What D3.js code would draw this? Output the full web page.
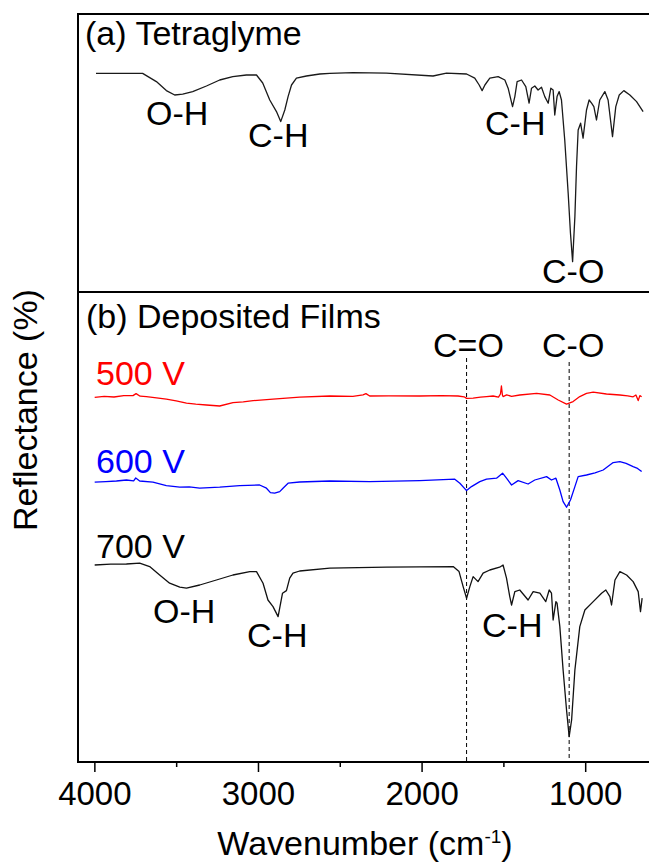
<!DOCTYPE html>
<html>
<head>
<meta charset="utf-8">
<script src="https://cdn.jsdelivr.net/npm/d3@7"></script>
<style>
  body { margin: 0; background: #fff; }
  svg text { font-family: "Liberation Sans", Arial, sans-serif; }
</style>
</head>
<body>
<div id="chart"></div>
<script>
// spectra: [wavenumber (cm-1), reflectance (a.u., offset)]
var tetraglyme = [
    [3990, 109.3], [3705, 109.3], [3621, 105.2], [3560, 100.7], [3509, 98.5], [3460, 98.9],
    [3399, 100.2], [3315, 103], [3234, 106], [3154, 107.7], [3071, 108.5], [3009, 108.5],
    [2971, 104.5], [2928, 96], [2887, 90.2], [2861, 85.2], [2836, 91], [2816, 97.7],
    [2795, 103.5], [2765, 106.9], [2704, 108], [2622, 109], [2561, 109.3], [2419, 109.7],
    [2215, 109.4], [1930, 108], [1848, 109.4], [1725, 109], [1675, 106.9], [1648, 103.5],
    [1630, 100.7], [1613, 103.5], [1583, 106.9], [1532, 107.7], [1491, 106], [1471, 101.9],
    [1444, 92.7], [1430, 97.7], [1416, 105.2], [1389, 106], [1363, 102.7], [1343, 94.4],
    [1328, 101.9], [1308, 103], [1288, 101], [1267, 102.4], [1247, 97.7], [1226, 94.4],
    [1210, 101.9], [1196, 101], [1186, 88.5], [1172, 97.7], [1159, 100.2], [1145, 96],
    [1125, 76], [1104, 49.4], [1090, 29.4], [1077, 15.2], [1063, 37.7], [1053, 62.7],
    [1043, 81], [1028, 84.4], [1013, 76.9], [992, 91], [976, 96], [961, 94.4],
    [947, 92.7], [931, 86], [911, 96], [880, 100.2], [860, 96], [833, 77.7],
    [813, 92.7], [792, 98.5], [764, 100.7], [727, 98.5], [686, 95.2], [646, 90.2]
];

var film500 = [
    [3998, 182.3], [3940, 182.8], [3880, 182.5], [3820, 183.2], [3764, 183.2], [3745, 184.2],
    [3720, 182.9], [3682, 182.7], [3620, 182.1], [3560, 181.4], [3500, 180.6], [3437, 179.4],
    [3380, 178.9], [3315, 178.5], [3234, 178], [3153, 179.7], [3090, 180.1], [3030, 180.7],
    [2908, 181.4], [2745, 182.4], [2561, 183], [2420, 182.8], [2358, 183.6], [2340, 184.2],
    [2317, 183], [2200, 183.1], [2011, 183], [1880, 183.2], [1777, 183], [1740, 182.6],
    [1725, 181.8], [1685, 181.9], [1640, 182.4], [1603, 182.7], [1563, 183], [1530, 182.4],
    [1518, 184], [1512, 188], [1506, 183.5], [1502, 182.7], [1480, 183.6], [1450, 182.8],
    [1400, 183.5], [1297, 184.3], [1216, 183.5], [1165, 181], [1114, 178.9], [1074, 180.2],
    [1033, 182.7], [992, 184.3], [951, 184.9], [870, 184], [788, 183.5], [740, 183.1],
    [707, 182.6], [690, 183.5], [676, 180.7], [666, 183.2], [655, 182.6]
];

var film600 = [
    [3998, 139.9], [3930, 140.2], [3865, 140.5], [3804, 141], [3760, 140.6], [3747, 142],
    [3723, 140.5], [3642, 139.9], [3560, 138.2], [3478, 137.4], [3420, 137.6], [3356, 136.9],
    [3234, 137.4], [3112, 138.2], [2990, 138.5], [2948, 136.9], [2924, 134.7], [2898, 134.4],
    [2867, 135.2], [2847, 136.9], [2816, 139.4], [2745, 140], [2561, 140.5], [2317, 140.2],
    [2011, 140.7], [1797, 141.4], [1766, 139.4], [1725, 135.7], [1695, 137.7], [1644, 140.2],
    [1603, 141.4], [1542, 141.9], [1505, 144.4], [1481, 141.9], [1450, 138.5], [1410, 140.7],
    [1349, 139], [1308, 141], [1236, 142.7], [1206, 141], [1179, 141.9], [1155, 136],
    [1135, 130.2], [1114, 127.4], [1090, 131], [1063, 137.7], [1043, 142.7], [992, 143.5],
    [940, 144.6], [890, 146], [829, 149.7], [788, 150.2], [750, 149.3], [707, 147.7],
    [680, 146.8], [655, 145.2]
];

var film700 = [
    [3998, 98.5], [3900, 98.9], [3804, 99], [3723, 99.4], [3662, 97.7], [3601, 93.5],
    [3540, 89.4], [3478, 87.4], [3437, 86.9], [3356, 88.5], [3254, 91], [3153, 93.5],
    [3050, 95.2], [3009, 95.2], [2969, 89.4], [2939, 81], [2908, 77.7], [2877, 72.7],
    [2850, 84.4], [2826, 85.7], [2806, 91.9], [2786, 94.4], [2745, 95.5], [2561, 96.9],
    [2215, 97.4], [1807, 97.7], [1771, 95.2], [1746, 87.7], [1725, 81.9], [1705, 87.7],
    [1685, 92.7], [1655, 90.2], [1624, 94.4], [1583, 96], [1523, 97.4], [1502, 98.5],
    [1481, 91.9], [1461, 82.7], [1450, 78.5], [1430, 85.2], [1400, 86], [1349, 81],
    [1318, 85.2], [1277, 84.4], [1241, 80.2], [1220, 86], [1206, 84.4], [1196, 71],
    [1179, 80.2], [1172, 79.4], [1155, 67.7], [1135, 46], [1114, 26], [1098, 12.7],
    [1083, 21], [1063, 46], [1033, 67.7], [1002, 76], [951, 80.2], [900, 84.4],
    [874, 86], [849, 82.7], [839, 78.5], [818, 91], [788, 95.2], [747, 93.5],
    [707, 90.2], [676, 85.2], [662, 75.2], [652, 81.9]
];

var majorTicks = [4000, 3000, 2000, 1000];
var minorTicks = [3500, 2500, 1500];
var markerWn = [1725, 1098];

var frame = {left: 78, right: 667, top: 14, mid: 292, bottom: 762};

function drawSpectrum(svg, data, x, y, color) {
    svg.append("path")
        .datum(data)
        .attr("fill", "none")
        .attr("stroke", color)
        .attr("stroke-width", 1.3)
        .attr("stroke-linejoin", "round")
        .attr("d", d3.line()
            .x(function(d) { return x(d[0]) })
            .y(function(d) { return y(d[1]) })
        );
}

function addLabel(svg, txt, px, py, color) {
    svg.append("text")
        .attr("x", px)
        .attr("y", py)
        .attr("font-size", 34)
        .attr("fill", color || "#000")
        .text(txt);
}

function drawChart() {
    let svg = d3.select("#chart")
        .append("svg")
        .attr("width", 649)
        .attr("height", 864);

    let x = d3.scaleLinear()
        .domain([4100, 500])
        .range([frame.left, frame.right]);
    let yTop = d3.scaleLinear()
        .domain([0, 139])
        .range([frame.mid, frame.top]);
    let yBot = d3.scaleLinear()
        .domain([0, 235])
        .range([frame.bottom, frame.mid]);

    // dashed guides for C=O and C-O
    svg.selectAll("line.guide")
        .data(markerWn)
        .enter()
        .append("line")
        .attr("class", "guide")
        .attr("x1", function(d) { return x(d) })
        .attr("x2", function(d) { return x(d) })
        .attr("y1", function(d, i) { return i == 0 ? 358 : 362 })
        .attr("y2", frame.bottom)
        .attr("stroke", "#000")
        .attr("stroke-width", 1)
        .attr("stroke-dasharray", "4,3");

    drawSpectrum(svg, tetraglyme, x, yTop, "#1a1a1a");
    drawSpectrum(svg, film500, x, yBot, "#ff0000");
    drawSpectrum(svg, film600, x, yBot, "#0000ff");
    drawSpectrum(svg, film700, x, yBot, "#111");

    // frame
    svg.append("rect")
        .attr("x", frame.left)
        .attr("y", frame.top)
        .attr("width", frame.right - frame.left)
        .attr("height", frame.bottom - frame.top)
        .attr("fill", "none")
        .attr("stroke", "#000")
        .attr("stroke-width", 2);
    svg.append("line")
        .attr("x1", frame.left)
        .attr("x2", frame.right)
        .attr("y1", frame.mid)
        .attr("y2", frame.mid)
        .attr("stroke", "#000")
        .attr("stroke-width", 2);

    // x axis
    let xAxis = svg.append("g")
        .attr("transform", "translate(0," + frame.bottom + ")")
        .call(d3.axisBottom(x)
            .tickValues(majorTicks)
            .tickFormat(d3.format("d"))
            .tickSize(10)
            .tickSizeOuter(0)
            .tickPadding(10));
    xAxis.select(".domain").remove();
    xAxis.selectAll("line").attr("stroke-width", 1.5);
    xAxis.selectAll("text")
        .attr("font-size", 33)
        .attr("font-family", "Liberation Sans, Arial, sans-serif")
        .attr("fill", "#000");

    let xMinor = svg.append("g")
        .attr("transform", "translate(0," + frame.bottom + ")")
        .call(d3.axisBottom(x)
            .tickValues(minorTicks)
            .tickFormat("")
            .tickSize(5)
            .tickSizeOuter(0));
    xMinor.select(".domain").remove();
    xMinor.selectAll("line").attr("stroke-width", 1.5);

    // axis titles
    let xt = svg.append("text")
        .attr("x", 365)
        .attr("y", 855)
        .attr("text-anchor", "middle")
        .attr("font-size", 34);
    xt.append("tspan").text("Wavenumber (cm");
    xt.append("tspan").attr("font-size", 19).attr("dy", -12).text("-1");
    xt.append("tspan").attr("dy", 12).text(")");

    svg.append("text")
        .attr("transform", "translate(37,410) rotate(-90)")
        .attr("text-anchor", "middle")
        .attr("font-size", 34)
        .text("Reflectance (%)");

    // panel (a)
    addLabel(svg, "(a) Tetraglyme", 85, 45);
    addLabel(svg, "O-H", 146, 125);
    addLabel(svg, "C-H", 248, 147);
    addLabel(svg, "C-H", 485, 135);
    addLabel(svg, "C-O", 542, 283);

    // panel (b)
    addLabel(svg, "(b) Deposited Films", 86, 328);
    addLabel(svg, "500 V", 96, 385, "#ff0000");
    addLabel(svg, "600 V", 96, 473, "#0000ff");
    addLabel(svg, "700 V", 96, 558);
    addLabel(svg, "C=O", 433, 357);
    addLabel(svg, "C-O", 542, 357);
    addLabel(svg, "O-H", 153, 623);
    addLabel(svg, "C-H", 247, 647);
    addLabel(svg, "C-H", 482, 637);
}

drawChart();
</script>
</body>
</html>
